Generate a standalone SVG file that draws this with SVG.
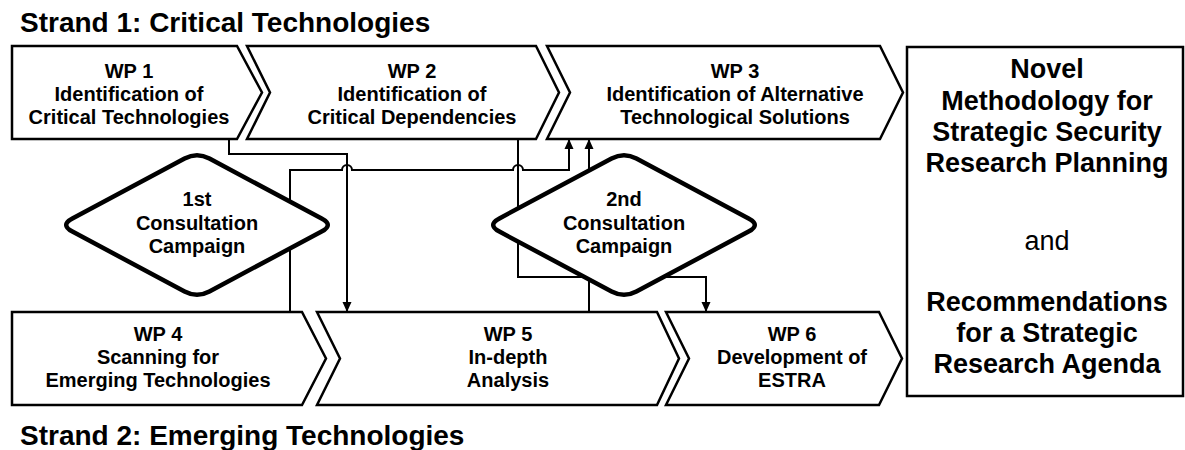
<svg xmlns="http://www.w3.org/2000/svg" width="1185" height="450" viewBox="0 0 1185 450">
<style>
.box{fill:#fff;stroke:#000;stroke-width:2.5;stroke-linejoin:miter}
.dia{fill:#fff;stroke:#000;stroke-width:4.5;stroke-linejoin:round}
.wp{font-family:"Liberation Sans",Arial,sans-serif;font-weight:bold;font-size:20px;text-anchor:middle;fill:#000}
.title{font-family:"Liberation Sans",Arial,sans-serif;font-weight:bold;font-size:28px;fill:#000}
.big{font-family:"Liberation Sans",Arial,sans-serif;font-weight:bold;font-size:27px;text-anchor:middle;fill:#000}
.and{font-family:"Liberation Sans",Arial,sans-serif;font-size:27px;text-anchor:middle;fill:#000}
.con{fill:none;stroke:#000;stroke-width:2}
</style>
<defs>
<marker id="arr" viewBox="0 0 10 10" refX="10" refY="5" markerWidth="10" markerHeight="10" markerUnits="userSpaceOnUse" orient="auto">
<path d="M0,0.5 L10,5 L0,9.5 Z" fill="#000"/>
</marker>
</defs>
<rect width="1185" height="450" fill="#fff"/>
<text class="title" x="20" y="32">Strand 1: Critical Technologies</text>
<text class="title" x="20" y="445">Strand 2: Emerging Technologies</text>

<g id="wp1">
<polygon class="box" points="12,46 237,46 262,92.5 237,139 12,139"/>
<text class="wp" x="129" y="78">WP 1</text>
<text class="wp" x="129" y="101">Identification of</text>
<text class="wp" x="129" y="124">Critical Technologies</text>
</g>
<g id="wp2">
<polygon class="box" points="247,46 536,46 559,92.5 536,139 247,139 270,92.5"/>
<text class="wp" x="412" y="78">WP 2</text>
<text class="wp" x="412" y="101">Identification of</text>
<text class="wp" x="412" y="124">Critical Dependencies</text>
</g>
<g id="wp3">
<polygon class="box" points="547,46 880,46 903,92.5 880,139 547,139 570,92.5"/>
<text class="wp" x="735" y="78">WP 3</text>
<text class="wp" x="735" y="101">Identification of Alternative</text>
<text class="wp" x="735" y="124">Technological Solutions</text>
</g>
<g id="wp4">
<polygon class="box" points="12,312 302,312 326,358.5 302,405 12,405"/>
<text class="wp" x="158" y="341">WP 4</text>
<text class="wp" x="158" y="364">Scanning for</text>
<text class="wp" x="158" y="387">Emerging Technologies</text>
</g>
<g id="wp5">
<polygon class="box" points="317,312 657,312 679,358.5 657,405 317,405 340,358.5"/>
<text class="wp" x="508" y="341">WP 5</text>
<text class="wp" x="508" y="364">In-depth</text>
<text class="wp" x="508" y="387">Analysis</text>
</g>
<g id="wp6">
<polygon class="box" points="666,312 879,312 902,358.5 879,405 666,405 689,358.5"/>
<text class="wp" x="792" y="341">WP 6</text>
<text class="wp" x="792" y="364">Development of</text>
<text class="wp" x="792" y="387">ESTRA</text>
</g>
<g id="result">
<rect class="box" x="907" y="47" width="276" height="349" stroke-width="2"/>
<text class="big" x="1047" y="78">Novel</text>
<text class="big" x="1047" y="110">Methodology for</text>
<text class="big" x="1047" y="141">Strategic Security</text>
<text class="big" x="1047" y="172">Research Planning</text>
<text class="and" x="1047" y="250">and</text>
<text class="big" x="1047" y="311">Recommendations</text>
<text class="big" x="1047" y="342">for a Strategic</text>
<text class="big" x="1047" y="373">Research Agenda</text>
</g>

<g id="connectors">
<path class="con" d="M229,139 V154 H347 V312" marker-end="url(#arr)"/>
<path class="con" d="M290,312 V170 H342 A5,5 0 0 1 352,170 H513 A5,5 0 0 1 523,170 H569 V139" marker-end="url(#arr)"/>
<path class="con" d="M518,139 V277 H706 V312" marker-end="url(#arr)"/>
<path class="con" d="M589,312 V139" marker-end="url(#arr)"/>
</g>

<g id="c1">
<path class="dia" d="M72.4,218.4 L184.6,158.6 Q197,152 209.4,158.6 L321.6,218.4 Q334,225 321.6,231.6 L209.4,291.4 Q197,298 184.6,291.4 L72.4,231.6 Q60,225 72.4,218.4 Z"/>
<text class="wp" x="197" y="206">1st</text>
<text class="wp" x="197" y="230">Consultation</text>
<text class="wp" x="197" y="253">Campaign</text>
</g>
<g id="c2">
<path class="dia" d="M499.4,218.4 L611.6,158.6 Q624,152 636.4,158.6 L748.6,218.4 Q761,225 748.6,231.6 L636.4,291.4 Q624,298 611.6,291.4 L499.4,231.6 Q487,225 499.4,218.4 Z"/>
<text class="wp" x="624" y="206">2nd</text>
<text class="wp" x="624" y="230">Consultation</text>
<text class="wp" x="624" y="253">Campaign</text>
</g>
</svg>
